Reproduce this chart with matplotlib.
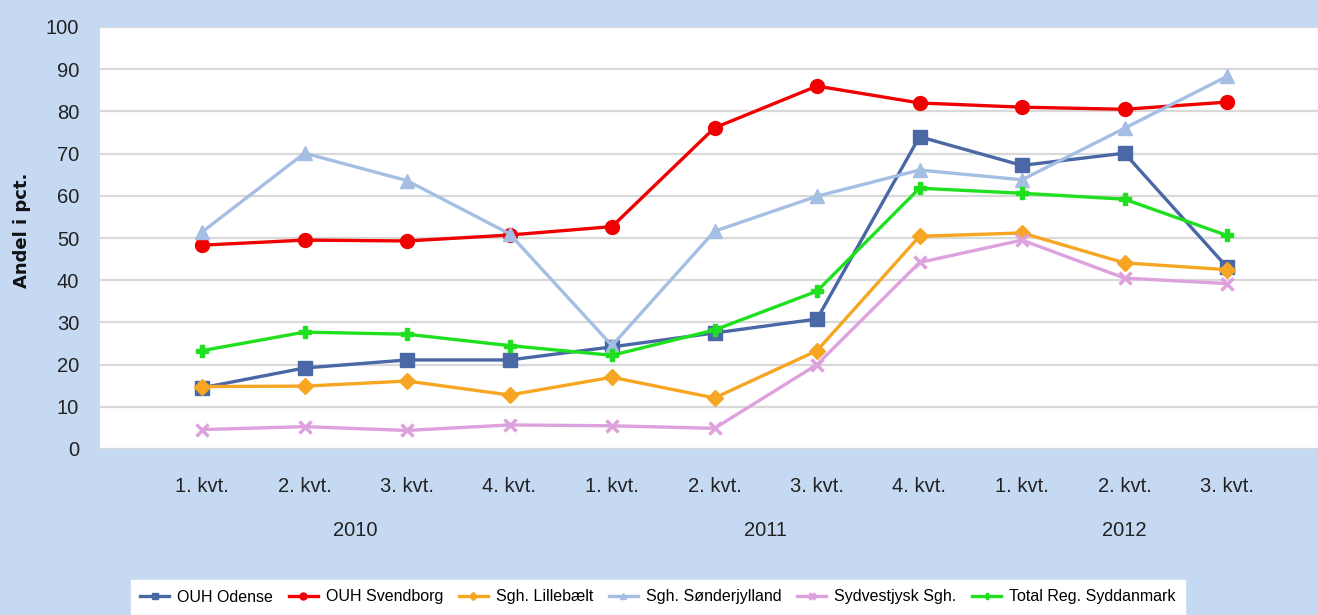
import matplotlib
matplotlib.use("Agg")
import matplotlib.pyplot as plt
import matplotlib.transforms as mtransforms

quarters = ["1. kvt.", "2. kvt.", "3. kvt.", "4. kvt.",
            "1. kvt.", "2. kvt.", "3. kvt.", "4. kvt.",
            "1. kvt.", "2. kvt.", "3. kvt."]
years = ["2010", "2011", "2012"]
year_spans = [(0, 3), (4, 7), (8, 10)]

ouh_odense = [14.5, 19.2, 21.1, 21.1, 24.2, 27.5, 30.8, 74.0, 67.2, 70.1, 43.1]
ouh_svendborg = [48.3, 49.5, 49.3, 50.7, 52.7, 76.1, 86.0, 82.0, 81.0, 80.5, 82.2]
sgh_lillebaelt = [14.8, 14.9, 16.1, 12.8, 17.0, 12.1, 23.3, 50.4, 51.2, 44.1, 42.5]
sgh_sonderjylland = [51.4, 70.1, 63.6, 51.0, 24.5, 51.6, 59.9, 66.1, 63.8, 76.0, 88.3]
sydvestjysk = [4.6, 5.3, 4.4, 5.7, 5.5, 4.9, 20.0, 44.2, 49.5, 40.5, 39.2]
total_reg = [23.3, 27.7, 27.2, 24.5, 22.2, 28.2, 37.4, 61.8, 60.6, 59.2, 50.6]

series = [
    ("OUH Odense", ouh_odense, "#4A68A6", "s", 10),
    ("OUH Svendborg", ouh_svendborg, "#F00000", "o", 10),
    ("Sgh. Lillebælt", sgh_lillebaelt, "#F6A623", "D", 8),
    ("Sgh. Sønderjylland", sgh_sonderjylland, "#A4BEE4", "^", 10),
    ("Sydvestjysk Sgh.", sydvestjysk, "#DDA2DD", "x", 9),
    ("Total Reg. Syddanmark", total_reg, "#1EE01E", "P", 8),
]

plt.rcParams["font.family"] = ["Liberation Sans", "DejaVu Sans"]

W, H = 1318, 615
fig = plt.figure(figsize=(W / 100, H / 100), dpi=100)
bg = "#C6D9F2"
fig.patch.set_facecolor(bg)

ax_left, ax_right, ax_top, ax_bot = 100, 1318, 27, 449
ax = fig.add_axes([ax_left / W, (H - ax_bot) / H, (ax_right - ax_left) / W, (ax_bot - ax_top) / H])
ax.set_facecolor("white")

x = list(range(len(quarters)))
px_per_unit = 102.5
x0_px = 202
ax.set_xlim((ax_left - x0_px) / px_per_unit, (ax_right - x0_px) / px_per_unit)
ax.set_ylim(0, 100)

for name, vals, col, mk, ms in series:
    mew = 2.5 if mk == "x" else 1
    ax.plot(x, vals, color=col, lw=2.4, marker=mk, markersize=ms,
            markerfacecolor=col, markeredgecolor=col, markeredgewidth=mew,
            label=name, solid_joinstyle="round")

ax.set_yticks(range(0, 101, 10))
ax.set_yticklabels([str(v) for v in range(0, 101, 10)], fontsize=14.5, color="#222222")
ax.yaxis.grid(True, color="#D9D9D9", lw=1.6)
ax.set_axisbelow(True)
ax.set_xticks(x)
ax.set_xticklabels(quarters, fontsize=14.5, color="#222222")
ax.tick_params(axis="both", length=0)
ax.tick_params(axis="x", pad=20)
ax.tick_params(axis="y", pad=15)
for s in ax.spines.values():
    s.set_visible(False)

trans = mtransforms.blended_transform_factory(ax.transData, fig.transFigure)
for yr, (a, b) in zip(years, year_spans):
    ax.text((a + b) / 2, (H - 530) / H, yr, transform=trans, ha="center", va="center",
            fontsize=14.5, color="#222222")

fig.text(22 / W, (H - 230) / H, "Andel i pct.", rotation=90, ha="center", va="center",
         fontsize=13, fontweight="bold", family="DejaVu Sans", color="#111111")

handles, labels = ax.get_legend_handles_labels()
leg = fig.legend(handles, labels, loc="center", bbox_to_anchor=(658 / W, (H - 597) / H),
                 ncol=6, fontsize=11.5, frameon=True, fancybox=False, edgecolor="white",
                 facecolor="white", framealpha=1, handlelength=1.8, columnspacing=1.0,
                 handletextpad=0.5, markerscale=0.5, borderpad=0.6)

fig.savefig("out.png", dpi=100, facecolor=bg)
